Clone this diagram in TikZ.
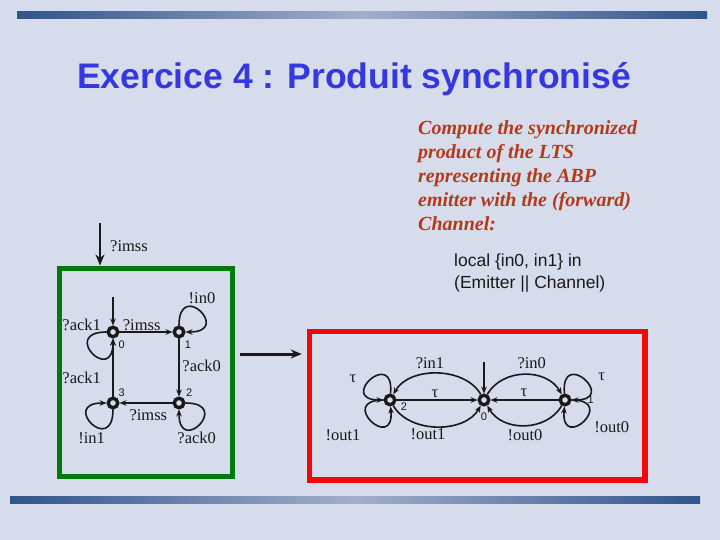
\documentclass[tikz,border=0pt]{standalone}
\usepackage{fontspec}
\setmainfont{Liberation Serif}
\setsansfont{Liberation Sans}
\usetikzlibrary{arrows.meta}
\definecolor{bg}{RGB}{214,220,236}
\definecolor{barD}{RGB}{48,84,140}
\definecolor{barL}{RGB}{162,174,202}
\definecolor{titleblue}{RGB}{52,56,222}
\definecolor{darkred}{RGB}{180,56,28}
\definecolor{gboxc}{RGB}{0,122,10}
\definecolor{rboxc}{RGB}{238,10,10}
\definecolor{ink}{RGB}{25,25,25}
\begin{document}
\begin{tikzpicture}[x=1pt,y=1pt,
  state/.style={circle, draw=ink, line width=3.4pt, minimum size=9.5pt, inner sep=0pt},
  edge/.style={draw=ink, line width=1.6pt, -{Stealth[length=7pt,width=5.5pt]}},
  loopedge/.style={edge, min distance=47pt},
  lbl/.style={font=\fontsize{16.5}{18}\selectfont, text=ink, inner sep=0pt},
  num/.style={font=\sffamily\fontsize{11}{12}\selectfont, text=ink, inner sep=0pt},
  bigarrow/.style={draw=ink, line width=3pt, -{Stealth[length=11pt,width=9pt]}}]
\fill[bg] (0,-540) rectangle (720,0);
\useasboundingbox (0,-540) rectangle (720,0);
% bars
\shade[left color=barD, right color=barD, middle color=barL] (17,-12) rectangle (707,-18.5);
\shade[left color=barD, right color=barD, middle color=barL] (10,-496) rectangle (700,-503);
% title
\node[font=\sffamily\bfseries\fontsize{35.5}{42}\selectfont, text=titleblue, inner sep=0] (title) at (354,-79) {Exercice 4 : Produit synchronisé};
% task text
\node[font=\bfseries\itshape\fontsize{20}{24}\selectfont, text=darkred, align=left, anchor=north west, inner sep=0] (task) at (418,-120) {Compute the synchronized\\product of the LTS\\representing the ABP\\emitter with the (forward)\\Channel:};
\node[font=\sffamily\fontsize{17.5}{22}\selectfont, text=ink, align=left, anchor=north west, inner sep=0] (local) at (454,-254) {local \{in0, in1\} in\\(Emitter || Channel)};
% boxes
\node[draw=gboxc, line width=5pt, minimum width=173pt, minimum height=208pt, inner sep=0] (gbox) at (146,-372) {};
\node[draw=rboxc, line width=5.5pt, minimum width=335.5pt, minimum height=148.5pt, inner sep=0] (rbox) at (477.25,-405.75) {};
\coordinate (arrowy) at (0,-354);
\draw[bigarrow, shorten <=5pt, shorten >=5pt] (gbox.east |- arrowy) -- (rbox.west |- arrowy);
\coordinate (ginit) at (100,-223);
\draw[bigarrow, line width=2.5pt] (ginit) -- (ginit |- gbox.north);
\node[lbl] (limss0) at (129,-246) {?imss};
% emitter states
\node[state] (s0) at (113,-332) {};
\node[state] (s1) at (179,-332) {};
\node[state] (s3) at (113,-403) {};
\node[state] (s2) at (179,-403) {};
\node[num] (n0) at (121.7,-345) {0};
\node[num] (n1) at (188,-345) {1};
\node[num] (n3) at (121.7,-393) {3};
\node[num] (n2) at (189.3,-393) {2};
\coordinate (s0in) at (113,-297);
\draw[edge] (s0in) -- (s0);
\draw[edge] (s0) -- (s1);
\draw[edge] (s1) -- (s2);
\draw[edge] (s2) -- (s3);
\draw[edge] (s3) -- (s0);
\draw[loopedge] (s0) to[out=180,in=270] (s0);
\draw[loopedge] (s1) to[out=90,in=0] (s1);
\draw[loopedge] (s3) to[out=270,in=180] (s3);
\draw[loopedge] (s2) to[out=0,in=270] (s2);
\node[lbl] (la) at (141.7,-325) {?imss};
\node[lbl] (lb) at (201.7,-366) {?ack0};
\node[lbl] (lc) at (148.3,-415) {?imss};
\node[lbl] (ld) at (81.7,-378) {?ack1};
\node[lbl] (le) at (81.7,-325) {?ack1};
\node[lbl] (lf) at (202,-298) {!in0};
\node[lbl] (lg) at (91.7,-438) {!in1};
\node[lbl] (lh) at (196.7,-438) {?ack0};
% channel states
\node[state] (r2) at (390,-400) {};
\node[state] (r0) at (484,-400) {};
\node[state] (r1) at (565,-400) {};
\node[num] (m2) at (404,-407) {2};
\node[num] (m0) at (484,-417) {0};
\node[num] (m1) at (590.7,-400) {1};
\coordinate (r0in) at (484,-362);
\draw[edge] (r0in) -- (r0);
\draw[edge] (r0) to[out=120,in=60,looseness=0.95] (r2);
\draw[edge] (r2) -- (r0);
\draw[edge] (r2) to[out=-60,in=-120,looseness=0.95] (r0);
\draw[edge] (r0) to[out=60,in=120,looseness=1.05] (r1);
\draw[edge] (r1) -- (r0);
\draw[edge] (r1) to[out=-120,in=-60,looseness=1.05] (r0);
\draw[loopedge] (r2) to[out=85,in=180] (r2);
\draw[loopedge] (r2) to[out=180,in=275] (r2);
\draw[loopedge] (r1) to[out=95,in=0] (r1);
\draw[loopedge] (r1) to[out=0,in=265] (r1);
\node[lbl] (ka) at (430,-363) {?in1};
\node[lbl] (kb) at (435,-394) {τ};
\node[lbl] (kc) at (428,-434) {!out1};
\node[lbl] (kd) at (531.7,-363) {?in0};
\node[lbl] (ke) at (524,-393) {τ};
\node[lbl] (kf) at (525,-435) {!out0};
\node[lbl] (kg) at (353,-379) {τ};
\node[lbl] (kh) at (343,-435) {!out1};
\node[lbl] (ki) at (601.7,-377) {τ};
\node[lbl] (kj) at (611.7,-427) {!out0};
\end{tikzpicture}
\end{document}
